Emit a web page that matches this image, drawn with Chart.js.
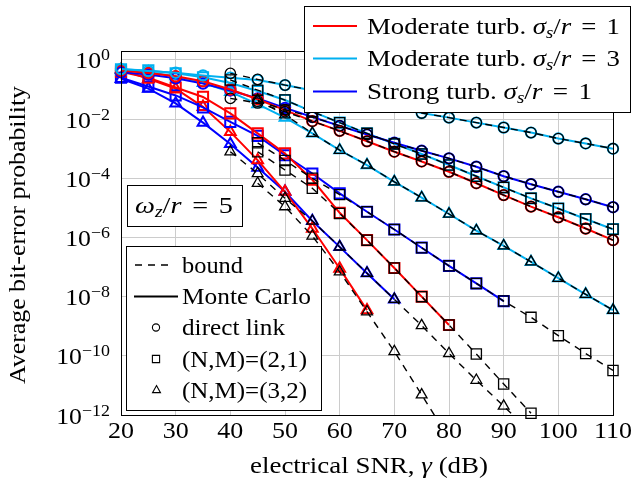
<!DOCTYPE html>
<html><head><meta charset="utf-8">
<script src="https://cdn.jsdelivr.net/npm/chart.js@4.4.0/dist/chart.umd.min.js"></script>
<style>html,body{margin:0;padding:0;background:#fff}</style>
</head><body>
<canvas id="c" width="633" height="482" style="display:block;width:633px;height:482px"></canvas>
<script>
// ---------- data ----------
const snr = [20,25,30,35,40,45,50,55,60,65,70,75,80,85,90,95,100,105,110];
const xTicks = [20,30,40,50,60,70,80,90,100,110];
const yTickExponents = [-12,-10,-8,-6,-4,-2,0];

// Monte Carlo
const modS3Direct = [0.49,0.42,0.37,0.30,0.25,0.21,0.141,9.3e-2,6.2e-2,4.0e-2,2.6e-2,1.6e-2,1.12e-2,7.6e-3,5.2e-3,3.5e-3,2.2e-3,1.5e-3,1.0e-3];
const modS1Direct = [0.44,0.36,0.28,0.19,0.10,4.7e-2,2.0e-2,8.5e-3,4.0e-3,1.78e-3,7.9e-4,3.7e-4,1.66e-4,6.8e-5,2.7e-5,1.1e-5,4.8e-6,2.0e-6,8.1e-7];
const strS1Direct = [0.38,0.32,0.24,0.158,9.3e-2,5.0e-2,2.4e-2,1.17e-2,5.9e-3,3.0e-3,1.58e-3,8.5e-4,4.7e-4,2.45e-4,1.17e-4,6.3e-5,3.5e-5,1.95e-5,1.05e-5];
const modS3Relay21 = [0.48,0.44,0.355,0.26,0.166,8.9e-2,4.4e-2,1.78e-2,7.6e-3,3.3e-3,1.45e-3,6.6e-4,2.8e-4,1.17e-4,4.9e-5,2.1e-5,9.5e-6,4.2e-6,1.9e-6];
const modS1Relay21 = [0.40,0.25,0.117,5.6e-2,1.55e-2,3.3e-3,6.9e-4,8.9e-5,6.8e-6,8.1e-7,9.3e-8,1.0e-8,1.1e-9,null,null,null,null,null,null];
const strS1Relay21 = [0.25,0.126,6.3e-2,2.5e-2,8.1e-3,2.7e-3,6.0e-4,1.45e-4,3.1e-5,7.4e-6,1.86e-6,4.5e-7,1.1e-7,2.8e-8,7.1e-9,null,null,null,null];
const modS3Relay32 = [0.46,0.38,0.28,0.166,8.3e-2,3.2e-2,1.12e-2,3.3e-3,8.9e-4,2.8e-4,7.6e-5,2.2e-5,6.2e-6,1.7e-6,5.2e-7,1.5e-7,4.2e-8,1.2e-8,3.5e-9];
const modS1Relay32 = [0.47,0.23,0.107,2.6e-2,3.7e-3,4.1e-4,3.5e-5,2.0e-6,8.9e-8,3.5e-9,null,null,null,null,null,null,null,null,null];
const strS1Relay32 = [0.23,0.107,3.4e-2,7.6e-3,1.45e-3,2.3e-4,3.5e-5,3.6e-6,4.8e-7,6.2e-8,8.1e-9,null,null,null,null,null,null,null,null];

// Bounds
const modS3DirectBound = [null,null,null,null,0.35,0.22,0.141,9.3e-2,6.2e-2,4.0e-2,2.6e-2,1.6e-2,1.12e-2,7.6e-3,5.2e-3,3.5e-3,2.2e-3,1.5e-3,1.0e-3];
const modS1DirectBound = [null,null,null,null,5.0e-2,3.5e-2,1.78e-2,8.5e-3,4.0e-3,1.78e-3,7.9e-4,3.7e-4,1.66e-4,6.8e-5,2.7e-5,1.1e-5,4.8e-6,2.0e-6,8.1e-7];
const strS1DirectBound = [null,null,null,null,null,4.0e-2,2.1e-2,1.17e-2,5.9e-3,3.0e-3,1.58e-3,8.5e-4,4.7e-4,2.45e-4,1.17e-4,6.3e-5,3.5e-5,1.95e-5,1.05e-5];
const modS3Relay21Bound = [null,null,null,null,0.21,9.5e-2,4.4e-2,1.78e-2,7.6e-3,3.3e-3,1.45e-3,6.6e-4,2.8e-4,1.17e-4,4.9e-5,2.1e-5,9.5e-6,4.2e-6,1.9e-6];
const modS1Relay21Bound = [null,null,null,null,null,7.9e-4,1.9e-4,4.6e-5,6.5e-6,8.1e-7,9.3e-8,1.0e-8,1.1e-9,1.15e-10,1.12e-11,1.15e-12,null,null,null];
const strS1Relay21Bound = [null,null,null,null,null,1.58e-3,4.0e-4,1.0e-4,2.8e-5,7.4e-6,1.86e-6,4.5e-7,1.1e-7,2.8e-8,7.1e-9,2.0e-9,4.8e-10,1.2e-10,3.2e-11];
const modS3Relay32Bound = [null,null,null,null,null,4.4e-2,1.4e-2,3.3e-3,8.9e-4,2.8e-4,7.6e-5,2.2e-5,6.2e-6,1.7e-6,5.2e-7,1.5e-7,4.2e-8,1.2e-8,3.5e-9];
const modS1Relay32Bound = [null,null,null,null,null,6.8e-5,1.1e-5,1.12e-6,6.9e-8,3.1e-9,1.4e-10,4.8e-12,1.6e-13,null,null,null,null,null,null];
const strS1Relay32Bound = [null,null,null,null,7.9e-4,1.45e-4,2.1e-5,3.6e-6,4.8e-7,6.2e-8,8.1e-9,1.05e-9,1.2e-10,1.5e-11,2.0e-12,2.5e-13,null,null,null];

const channelLabels = ['Moderate turb.', 'Moderate turb.', 'Strong turb.'];
const channelSigma = ['1', '3', '1'];
const styleLabels = ['bound', 'Monte Carlo', 'direct link', '(N,M)=(2,1)', '(N,M)=(3,2)'];
const omegaValue = '5';

// ---------- styles ----------
const RED = '#ff0000', LBLUE = '#00b0f0', BLUE = '#0000ff';
const channelColors = [RED, LBLUE, BLUE];
const FF = '"Liberation Serif", "Times New Roman", serif';
const rm = `23px ${FF}`, it = `italic 23px ${FF}`, sub = `italic 16px ${FF}`, sup = `16px ${FF}`;
const radius = {circle: 5.2, rect: 7.2, triangle: 6.2};

function pts(arr) {
  return snr.map((x, i) => ({x: x, y: arr[i]})).filter(p => p.y !== null);
}
function mc(arr, color, shape) {
  return {data: pts(arr), borderColor: color, borderWidth: 2, pointStyle: shape,
    pointRadius: radius[shape], pointBorderColor: color, pointBackgroundColor: 'rgba(0,0,0,0)',
    pointBorderWidth: 2, order: 2, clip: {left: 10, right: 10, top: 10, bottom: 10}};
}
function bd(arr, shape, clipBottom) {
  return {data: pts(arr), borderColor: '#000', borderWidth: 1.4, borderDash: [7, 6], pointStyle: shape,
    pointRadius: radius[shape], pointBorderColor: '#000', pointBackgroundColor: 'rgba(0,0,0,0)',
    pointBorderWidth: 1.3, order: 1, clip: {left: 10, right: 10, top: 10, bottom: clipBottom}};
}

const datasets = [
  mc(modS3Direct, LBLUE, 'circle'), mc(modS1Direct, RED, 'circle'), mc(strS1Direct, BLUE, 'circle'),
  mc(modS3Relay21, LBLUE, 'rect'), mc(modS1Relay21, RED, 'rect'), mc(strS1Relay21, BLUE, 'rect'),
  mc(modS3Relay32, LBLUE, 'triangle'), mc(modS1Relay32, RED, 'triangle'), mc(strS1Relay32, BLUE, 'triangle'),
  bd(modS3DirectBound, 'circle', 10), bd(modS1DirectBound, 'circle', 10), bd(strS1DirectBound, 'circle', 10),
  bd(modS3Relay21Bound, 'rect', 10), bd(modS1Relay21Bound, 'rect', 10), bd(strS1Relay21Bound, 'rect', 10),
  bd(modS3Relay32Bound, 'triangle', 10), bd(modS1Relay32Bound, 'triangle', 0), bd(strS1Relay32Bound, 'triangle', 0)
];

// ---------- text helpers ----------
function runsWidth(ctx, runs) {
  let w = 0;
  for (const r of runs) { ctx.font = r.f; w += ctx.measureText(r.t).width + (r.sp || 0); }
  return w;
}
// draws text runs; stretches horizontally either by factor sx or to a target width
function drawRuns(ctx, x, y, runs, align, opt) {
  const w = runsWidth(ctx, runs);
  let sx = 1;
  if (opt && opt.w) sx = opt.w / w;
  else if (opt && opt.sx) sx = opt.sx;
  const W = w * sx;
  const x0 = align === 'center' ? x - W / 2 : align === 'right' ? x - W : x;
  ctx.save();
  ctx.translate(x0, y); ctx.scale(sx, 1);
  ctx.textAlign = 'left'; ctx.textBaseline = 'alphabetic';
  let cx = 0;
  for (const r of runs) {
    ctx.font = r.f;
    ctx.fillText(r.t, cx, r.dy || 0);
    cx += ctx.measureText(r.t).width + (r.sp || 0);
  }
  ctx.restore();
}
function marker(ctx, shape, x, y, r) {
  ctx.beginPath();
  if (shape === 'circle') ctx.arc(x, y, r, 0, Math.PI * 2);
  else if (shape === 'rect') ctx.rect(x - r, y - r, 2 * r, 2 * r);
  else { ctx.moveTo(x, y - r); ctx.lineTo(x + r * 0.9, y + r * 0.6); ctx.lineTo(x - r * 0.9, y + r * 0.6); ctx.closePath(); }
  ctx.stroke();
}

const deco = {
  id: 'deco',
  afterDraw(chart) {
    const ctx = chart.ctx, a = chart.chartArea, ys = chart.scales.y, xs = chart.scales.x;
    ctx.save();
    ctx.setLineDash([]);
    ctx.strokeStyle = '#000'; ctx.lineWidth = 1;
    ctx.strokeRect(a.left + 0.5, a.top + 0.5, a.right - a.left, a.bottom - a.top);
    ctx.fillStyle = '#000';
    // y tick labels
    for (const e of yTickExponents) {
      const y = ys.getPixelForValue(Math.pow(10, e));
      drawRuns(ctx, 110, y + 8.5, [{t: '10', f: rm}, {t: e === 0 ? '0' : '\u2212' + (-e), f: sup, dy: -8}], 'right', {sx: 1.12});
    }
    // x tick labels
    for (const v of xTicks) {
      drawRuns(ctx, xs.getPixelForValue(v), 438, [{t: String(v), f: rm}], 'center', {sx: 1.13});
    }
    // axis titles
    drawRuns(ctx, 369, 472.5, [{t: 'electrical SNR, ', f: rm}, {t: '\u03b3', f: it}, {t: ' (dB)', f: rm}], 'center', {w: 238});
    ctx.save();
    ctx.translate(25, 235); ctx.rotate(-Math.PI / 2);
    drawRuns(ctx, 0, 0, [{t: 'Average bit-error probability', f: rm}], 'center', {w: 298});
    ctx.restore();

    // legend 1 (channels)
    ctx.fillStyle = '#fff'; ctx.fillRect(304.5, 6.5, 326, 106);
    ctx.strokeStyle = '#000'; ctx.lineWidth = 1; ctx.strokeRect(304.5, 6.5, 326, 106);
    const rowY = [26, 58.5, 91.5];
    const rowW = [253, 253, 225];
    for (let i = 0; i < 3; i++) {
      ctx.strokeStyle = channelColors[i]; ctx.lineWidth = 2;
      ctx.beginPath(); ctx.moveTo(313, rowY[i]); ctx.lineTo(357, rowY[i]); ctx.stroke();
      ctx.fillStyle = '#000';
      drawRuns(ctx, 367, rowY[i] + 7.5, [
        {t: channelLabels[i] + ' ', f: rm}, {t: '\u03c3', f: it}, {t: 's', f: sub, dy: 4},
        {t: '/', f: rm}, {t: 'r', f: it, sp: 3}, {t: ' = ', f: rm, sp: 3}, {t: channelSigma[i], f: rm}], 'left', {w: rowW[i]});
    }
    // legend 3 (omega)
    ctx.fillStyle = '#fff'; ctx.fillRect(127.5, 185.5, 115, 41);
    ctx.strokeStyle = '#000'; ctx.lineWidth = 1; ctx.strokeRect(127.5, 185.5, 115, 41);
    ctx.fillStyle = '#000';
    drawRuns(ctx, 135, 213, [{t: '\u03c9', f: it}, {t: 'z', f: sub, dy: 4}, {t: '/', f: rm}, {t: 'r', f: it, sp: 3},
      {t: ' = ', f: rm, sp: 3}, {t: omegaValue, f: rm}], 'left', {w: 98});
    // legend 2 (styles)
    ctx.fillStyle = '#fff'; ctx.fillRect(126.5, 246.5, 195, 164);
    ctx.strokeStyle = '#000'; ctx.lineWidth = 1; ctx.strokeRect(126.5, 246.5, 195, 164);
    const sY = [265, 296.5, 327.5, 359, 390];
    const sW = [61, 129, 103, 125, 125];
    ctx.strokeStyle = '#000';
    ctx.lineWidth = 1.4; ctx.setLineDash([7, 6]);
    ctx.beginPath(); ctx.moveTo(135, sY[0]); ctx.lineTo(174, sY[0]); ctx.stroke();
    ctx.setLineDash([]); ctx.lineWidth = 2;
    ctx.beginPath(); ctx.moveTo(134, sY[1]); ctx.lineTo(178, sY[1]); ctx.stroke();
    ctx.lineWidth = 1.1;
    marker(ctx, 'circle', 156, sY[2], 3.6);
    marker(ctx, 'rect', 156, sY[3], 3.6);
    marker(ctx, 'triangle', 156.5, sY[4], 4.4);
    ctx.fillStyle = '#000';
    for (let i = 0; i < 5; i++) drawRuns(ctx, 182, sY[i] + 7.5, [{t: styleLabels[i], f: rm}], 'left', {w: sW[i]});
    ctx.restore();
  }
};

new Chart(document.getElementById('c'), {
  type: 'line',
  data: {datasets: datasets},
  options: {
    responsive: false, animation: false, events: [],
    layout: {padding: {left: 0, top: 51, right: 20, bottom: 0}},
    plugins: {legend: {display: false}, tooltip: {enabled: false}},
    elements: {line: {tension: 0}},
    scales: {
      x: {type: 'linear', min: 20, max: 110,
        afterBuildTicks: s => { s.ticks = xTicks.map(v => ({value: v})); },
        afterFit: s => { s.height = 67; },
        ticks: {display: false}, border: {display: false},
        grid: {color: '#cccccc', lineWidth: 1, drawTicks: false}},
      y: {type: 'logarithmic', min: 1e-12, max: 2,
        afterBuildTicks: s => { s.ticks = yTickExponents.map(e => ({value: Math.pow(10, e)})); },
        afterFit: s => { s.width = 121; },
        ticks: {display: false}, border: {display: false},
        grid: {color: '#cccccc', lineWidth: 1, drawTicks: false}}
    }
  },
  plugins: [deco]
});
</script>
</body></html>
